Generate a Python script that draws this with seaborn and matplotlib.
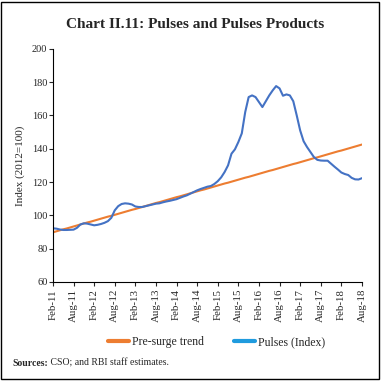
import numpy as np
import pandas as pd
import matplotlib
matplotlib.use("Agg")
import matplotlib.pyplot as plt
from matplotlib.lines import Line2D
from matplotlib.patches import Rectangle
import seaborn as sns

# monthly data, Feb-2011 to Aug-2018
trend = [89.8, 90.4, 91.0, 91.6, 92.1, 92.7, 93.3, 93.9, 94.5, 95.1,
         95.7, 96.2, 96.8, 97.4, 98.0, 98.6, 99.2, 99.7, 100.3, 100.9,
         101.5, 102.1, 102.7, 103.3, 103.8, 104.4, 105.0, 105.6, 106.2, 106.8,
         107.4, 107.9, 108.5, 109.1, 109.7, 110.3, 110.9, 111.4, 112.0, 112.6,
         113.2, 113.8, 114.4, 115.0, 115.5, 116.1, 116.7, 117.3, 117.9, 118.5,
         119.1, 119.6, 120.2, 120.8, 121.4, 122.0, 122.6, 123.1, 123.7, 124.3,
         124.9, 125.5, 126.1, 126.7, 127.2, 127.8, 128.4, 129.0, 129.6, 130.2,
         130.8, 131.3, 131.9, 132.5, 133.1, 133.7, 134.3, 134.8, 135.4, 136.0,
         136.6, 137.2, 137.8, 138.4, 138.9, 139.5, 140.1, 140.7, 141.3, 141.9,
         142.5]
pulses = [92.2, 92.0, 91.5, 91.2, 91.2, 91.3, 91.4, 92.5, 94.5, 95.2,
          95.0, 94.5, 94.0, 94.3, 94.8, 95.5, 96.5, 98.5, 103.0, 105.5,
          106.8, 107.2, 107.0, 106.5, 105.3, 105.0, 105.0, 105.5, 106.0, 106.5,
          107.0, 107.2, 107.8, 108.3, 108.7, 109.2, 109.7, 110.5, 111.3, 112.0,
          113.0, 114.0, 115.0, 115.8, 116.5, 117.2, 117.6, 118.8, 120.5, 122.8,
          126.0, 130.0, 137.0, 139.6, 144.0, 149.2, 162.0, 171.0, 172.0, 171.0,
          168.0, 165.0, 168.5, 172.0, 175.0, 177.6, 176.2, 171.8, 172.6, 172.0,
          168.5, 160.0, 151.0, 144.5, 141.0, 138.0, 135.0, 133.3, 132.9, 132.8,
          132.8, 131.0, 129.2, 127.5, 125.7, 124.8, 124.2, 122.5, 121.6, 121.5,
          122.3]
tick_labels = ["Feb-11", "Aug-11", "Feb-12", "Aug-12", "Feb-13", "Aug-13",
               "Feb-14", "Aug-14", "Feb-15", "Aug-15", "Feb-16", "Aug-16",
               "Feb-17", "Aug-17", "Feb-18", "Aug-18"]

months = np.arange(len(pulses))
df = pd.DataFrame({
    "month": np.concatenate([months, months]),
    "value": trend + pulses,
    "series": ["Pre-surge trend"] * len(trend) + ["Pulses (Index)"] * len(pulses),
})

sns.set_style("ticks")
plt.rcParams["font.family"] = ["Liberation Serif", "DejaVu Serif"]

fig = plt.figure(figsize=(3.81, 3.81), dpi=100)
ax = fig.add_axes([0.139, 0.260, 0.811, 0.612])

sns.lineplot(data=df, x="month", y="value", hue="series",
             palette={"Pre-surge trend": "#ED7D31", "Pulses (Index)": "#4472C4"},
             linewidth=1.5, legend=False, ax=ax)

ax.set_xlim(0, len(pulses) - 1)
ax.set_ylim(60, 200)
ax.set_yticks(range(60, 201, 20))
ax.set_xticks(months[::6])
ax.set_xticklabels(tick_labels, rotation=90, fontsize=7.8)
ax.tick_params(axis="y", labelsize=7.5, length=3, width=0.8, pad=1)
ax.tick_params(axis="x", length=3, width=0.8, pad=2)
ax.set_xlabel("")
ax.set_ylabel("Index (2012=100)", fontsize=8, labelpad=5)
for s in ["top", "right"]:
    ax.spines[s].set_visible(False)
for s in ["left", "bottom"]:
    ax.spines[s].set_linewidth(0.8)
    ax.spines[s].set_color("black")

fig.text(0.512, 0.935, "Chart II.11: Pulses and Pulses Products",
         ha="center", va="center", fontsize=11, fontweight="bold")

handles = [Line2D([], [], color="#ED7D31", lw=3),
           Line2D([], [], color="#1F9BDE", lw=3)]
fig.legend(handles, ["Pre-surge trend", "Pulses (Index)"], loc="center",
           bbox_to_anchor=(0.568, 0.102), ncol=2, frameon=False, fontsize=8.5,
           handlelength=1.8, handletextpad=0.2, columnspacing=2.6)

src = fig.text(0.032, 0.047, "Sources:", fontsize=7, fontweight="bold",
               va="center")
ax.annotate(" CSO; and RBI staff estimates.", xy=(1, 0.5), xycoords=src,
            va="center", ha="left", fontsize=7, annotation_clip=False)

fig.patches.append(Rectangle((0.003, 0.005), 0.992, 0.991, transform=fig.transFigure,
                             fill=False, edgecolor="black", linewidth=1.0))

fig.savefig("out.png", dpi=100)
